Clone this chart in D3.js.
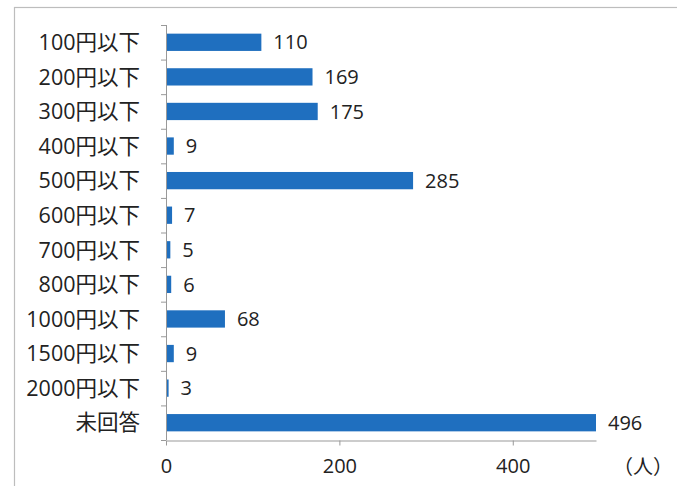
<!DOCTYPE html>
<html>
<head>
<meta charset="utf-8">
<script src="https://cdn.jsdelivr.net/npm/d3@7"></script>
<style>
body { margin: 0; background: #fff; }
</style>
</head>
<body>
<div id="root"></div>
<script>
var width = 677;
var height = 486;

// data
var categories = ["100円以下", "200円以下", "300円以下", "400円以下", "500円以下", "600円以下",
	"700円以下", "800円以下", "1000円以下", "1500円以下", "2000円以下", "未回答"];
var counts = [110, 169, 175, 9, 285, 7, 5, 6, 68, 9, 3, 496];
var tickValues = [0, 200, 400];
var unitLabel = "（人）";

var font = "'Open Sans', 'Noto Sans CJK JP', sans-serif";

var svg = d3.select("#root")
.append("svg")
.attr("width", width)
.attr("height", height)
.style("background-color", "#fff");

// frame around the chart (runs off right/bottom like the scan)
svg.append("rect")
.attr("x", 14.5)
.attr("y", 7.5)
.attr("width", 720)
.attr("height", 520)
.attr("fill", "none")
.attr("stroke", "#bdbdbd")
.attr("stroke-width", 1.2);

var x = d3.scaleLinear()
.domain([0, 496])
.range([166, 596]);

var y = d3.scaleBand()
.domain(categories)
.range([25, 440])
.paddingInner(0.5)
.paddingOuter(0.25);

var rows = categories.map(function(c, i) {
	return {cat: c, value: counts[i]};
});

// bars
svg.append("g")
.selectAll("rect")
.data(rows)
.enter()
.append("rect")
.attr("x", x(0))
.attr("y", function(d) { return y(d.cat); })
.attr("width", function(d) { return x(d.value) - x(0); })
.attr("height", y.bandwidth())
.attr("fill", "#1f6fbf");

// value labels
svg.append("g")
.selectAll("text")
.data(rows)
.enter()
.append("text")
.attr("x", function(d) { return x(d.value) + 12; })
.attr("y", function(d) { return y(d.cat) + y.bandwidth() / 2; })
.attr("dy", "0.36em")
.attr("font-family", font)
.attr("font-size", "20px")
.attr("fill", "#222")
.text(function(d) { return d.value; });

// y axis: ticks between categories, pointing left
var step = y.step();
var yAxis = svg.append("g");
yAxis.append("line")
.attr("x1", x(0) + 0.5).attr("x2", x(0) + 0.5)
.attr("y1", 25).attr("y2", 440)
.attr("stroke", "#999");
yAxis.selectAll(".ytick")
.data(d3.range(categories.length + 1))
.enter()
.append("line")
.attr("x1", x(0) - 5).attr("x2", x(0))
.attr("y1", function(i) { return 25 + i * step + 0.5; })
.attr("y2", function(i) { return 25 + i * step + 0.5; })
.attr("stroke", "#999");
yAxis.selectAll("text")
.data(categories)
.enter()
.append("text")
.attr("x", 140)
.attr("y", function(d) { return y(d) + y.bandwidth() / 2; })
.attr("dy", "0.36em")
.attr("text-anchor", "end")
.attr("font-family", font)
.attr("font-size", "21.5px")
.attr("fill", "#222")
.text(function(d) { return d; });

// x axis
var xAxis = d3.axisBottom(x)
.tickValues(tickValues)
.tickSize(5)
.tickSizeOuter(0)
.tickPadding(13);

var gx = svg.append("g")
.attr("transform", "translate(0, 440.5)")
.call(xAxis);
gx.select(".domain").attr("stroke", "#999");
gx.selectAll(".tick line").attr("stroke", "#999");
gx.selectAll(".tick text")
.attr("font-family", font)
.attr("font-size", "20px")
.attr("fill", "#222");

svg.append("text")
.attr("x", 673)
.attr("y", 474)
.attr("text-anchor", "end")
.attr("font-family", font)
.attr("font-size", "20px")
.attr("fill", "#222")
.text(unitLabel);
</script>
</body>
</html>
